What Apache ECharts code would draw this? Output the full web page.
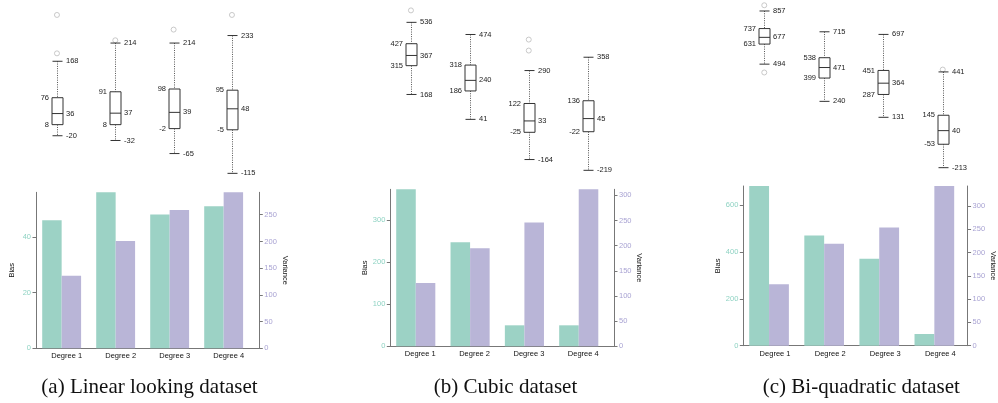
<!DOCTYPE html>
<html><head><meta charset="utf-8">
<script src="https://cdn.jsdelivr.net/npm/echarts@6/dist/echarts.min.js"></script>
<style>html,body{margin:0;padding:0;background:#fff}#c{width:998px;height:403px}</style>
</head><body><div id="c"></div>
<script>
var categories = ['Degree 1', 'Degree 2', 'Degree 3', 'Degree 4'];
var captions = ['(a) Linear looking dataset', '(b) Cubic dataset', '(c) Bi-quadratic dataset'];
// box stats: [lower whisker, Q1, median, Q3, upper whisker]
var boxA = [[-20, 8, 36, 76, 168], [-32, 8, 37, 91, 214], [-65, -2, 39, 98, 214], [-115, -5, 48, 95, 233]];
var boxB = [[168, 315, 367, 427, 536], [41, 186, 240, 318, 474], [-164, -25, 33, 122, 290], [-219, -22, 45, 136, 358]];
var boxC = [[494, 631, 677, 737, 857], [240, 399, 471, 538, 715], [131, 287, 364, 451, 697], [-213, -53, 40, 145, 441]];
// outliers: [category index, value]
var outA = [[0, 285], [0, 188], [1, 221], [2, 248], [3, 285]];
var outB = [[0, 597], [2, 448], [2, 392]];
var outC = [[0, 896], [0, 437], [3, 457]];
// bars
var biasA = [46, 56, 48, 51];
var varA = [136, 201, 259, 292];
var biasB = [374, 248, 50, 50];
var varB = [126, 195, 246, 312];
var biasC = [683, 471, 372, 50];
var varC = [132, 219, 254, 343];
var biasTickStep = [20, 100, 200];
var varTickStep = [50, 50, 50];

var TEAL = '#9cd2c5', LAV = '#b9b5d7', TEAL_T = '#8fd3c3', LAV_T = '#a9a3d3';
var FONT = 'Liberation Sans';

// layout
var boxLayout = [
  {left: 27.8, width: 233.3, top: 9.0, bottom: 179.3, min: -130, max: 300},
  {left: 381.5, width: 235.6, top: 0.0, bottom: 176.4, min: -250, max: 650},
  {left: 734.5, width: 238.0, top: 0.3, bottom: 173.1, min: -250, max: 930}
];
var barAxes = [
  {left: 36, right: 259.3, top: 192.3, bottom: 348.3},
  {left: 390.3, right: 614, top: 189.3, bottom: 346.3},
  {left: 743.3, right: 970, top: 186, bottom: 345.7}
];
var barBands = [
  {left: 34.65, width: 216, shift: 10},
  {left: 388.6, width: 217.3, shift: 9},
  {left: 741.5, width: 220.4, shift: 12}
];
var captionPos = [[149.5, 387], [505.5, 387], [861.3, 387]];

var boxes = [boxA, boxB, boxC], outs = [outA, outB, outC];
var biases = [biasA, biasB, biasC], vars = [varA, varB, varC];

function renderBox(params, api) {
  var i = api.value(0);
  var lo = api.coord([i, api.value(1)]);
  var q1 = api.coord([i, api.value(2)]);
  var md = api.coord([i, api.value(3)]);
  var q3 = api.coord([i, api.value(4)]);
  var hi = api.coord([i, api.value(5)]);
  var cx = Math.round(md[0]) + 0.5;
  var hw = 5.5, cw = 5;
  var stroke = '#333';
  var ts = function (t, x, y, al) {
    return {type: 'text', style: {text: String(t), x: x, y: y, align: al, verticalAlign: 'middle',
      fontSize: 7.5, fontFamily: FONT, fill: '#222'}};
  };
  return {type: 'group', children: [
    {type: 'line', shape: {x1: cx, y1: hi[1], x2: cx, y2: q3[1]}, style: {stroke: '#555', lineWidth: 1, lineDash: [1, 1.3]}},
    {type: 'line', shape: {x1: cx, y1: q1[1], x2: cx, y2: lo[1]}, style: {stroke: '#555', lineWidth: 1, lineDash: [1, 1.3]}},
    {type: 'line', shape: {x1: cx - cw, y1: hi[1], x2: cx + cw, y2: hi[1]}, style: {stroke: stroke, lineWidth: 1}},
    {type: 'line', shape: {x1: cx - cw, y1: lo[1], x2: cx + cw, y2: lo[1]}, style: {stroke: stroke, lineWidth: 1}},
    {type: 'rect', shape: {x: cx - hw, y: q3[1], width: hw * 2, height: q1[1] - q3[1]}, style: {fill: '#fff', stroke: stroke, lineWidth: 1}},
    {type: 'line', shape: {x1: cx - hw, y1: md[1], x2: cx + hw, y2: md[1]}, style: {stroke: stroke, lineWidth: 1}},
    ts(api.value(4), cx - hw - 3, q3[1], 'right'),
    ts(api.value(2), cx - hw - 3, q1[1], 'right'),
    ts(api.value(3), cx + hw + 3, md[1], 'left'),
    ts(api.value(5), cx + cw + 3.5, hi[1], 'left'),
    ts(api.value(1), cx + cw + 3.5, lo[1], 'left')
  ]};
}

var grid = [], xAxis = [], yAxis = [], series = [], graphic = [];
for (var p = 0; p < 3; p++) {
  // boxplot grid
  var bl = boxLayout[p];
  var gi = grid.length;
  grid.push({left: bl.left, width: bl.width, top: bl.top, height: bl.bottom - bl.top});
  var xi = xAxis.length;
  xAxis.push({type: 'category', gridIndex: gi, data: categories, show: false, boundaryGap: true});
  var yi = yAxis.length;
  yAxis.push({type: 'value', gridIndex: gi, min: bl.min, max: bl.max, show: false, splitLine: {show: false}});
  series.push({type: 'custom', xAxisIndex: xi, yAxisIndex: yi, renderItem: renderBox,
    encode: {x: 0, y: [1, 2, 3, 4, 5]},
    data: boxes[p].map(function (b, i) { return [i].concat(b); }), z: 3});
  series.push({type: 'scatter', xAxisIndex: xi, yAxisIndex: yi, data: outs[p], symbol: 'circle', symbolSize: 5,
    itemStyle: {color: '#fff', borderColor: '#bbb', borderWidth: 1}, z: 2});

  // bar axes grid (visible axes)
  var ba = barAxes[p];
  var gv = grid.length;
  grid.push({left: ba.left, width: ba.right - ba.left, top: ba.top, height: ba.bottom - ba.top});
  xAxis.push({type: 'category', gridIndex: gv, data: categories,
    axisLine: {lineStyle: {color: '#777', width: 1}}, axisTick: {show: false}, axisLabel: {show: false}});
  var bMax = Math.max.apply(null, biases[p]), vMax = Math.max.apply(null, vars[p]);
  var axisCommon = function (color, step, max, pos) {
    return {type: 'value', gridIndex: gv, position: pos, min: 0, max: max, interval: step,
      name: pos === 'left' ? 'Bias' : 'Variance', nameLocation: 'middle', nameGap: pos === 'left' ? 20 : 19,
      nameRotate: pos === 'left' ? 90 : -90,
      nameTextStyle: {color: '#111', fontSize: 7.5, fontFamily: FONT},
      axisLine: {show: true, lineStyle: {color: '#777', width: 1}},
      axisTick: {show: true, length: 3.5, lineStyle: {color: '#777'}},
      axisLabel: {color: color, fontSize: 7.5, fontFamily: FONT, margin: 5, showMaxLabel: false},
      splitLine: {show: false}};
  };
  yAxis.push(axisCommon(TEAL_T, biasTickStep[p], bMax, 'left'));
  yAxis.push(axisCommon(LAV_T, varTickStep[p], vMax, 'right'));

  // bar grid (bars)
  var bb = barBands[p];
  var gb = grid.length;
  grid.push({left: bb.left, width: bb.width, top: ba.top, height: ba.bottom - ba.top});
  var xb = xAxis.length;
  xAxis.push({type: 'category', gridIndex: gb, data: categories,
    axisLine: {show: false}, axisTick: {show: false},
    axisLabel: {color: '#111', fontSize: 7.5, fontFamily: FONT, margin: 4, padding: [0, 0, 0, bb.shift]}});
  var yb1 = yAxis.length;
  yAxis.push({type: 'value', gridIndex: gb, min: 0, max: bMax, show: false, splitLine: {show: false}});
  var yb2 = yAxis.length;
  yAxis.push({type: 'value', gridIndex: gb, min: 0, max: vMax, show: false, splitLine: {show: false}});
  series.push({type: 'bar', xAxisIndex: xb, yAxisIndex: yb1, data: biases[p], barGap: '0%', barCategoryGap: '28%',
    itemStyle: {color: TEAL}, silent: true});
  series.push({type: 'bar', xAxisIndex: xb, yAxisIndex: yb2, data: vars[p], barGap: '0%', barCategoryGap: '28%',
    itemStyle: {color: LAV}, silent: true});

  graphic.push({type: 'text', x: captionPos[p][0], y: captionPos[p][1],
    style: {text: captions[p], align: 'center', verticalAlign: 'middle', fontSize: 21,
      fontFamily: 'Liberation Serif', fill: '#111'}});
}

var chart = echarts.init(document.getElementById('c'), null, {renderer: 'canvas'});
chart.setOption({animation: false, grid: grid, xAxis: xAxis, yAxis: yAxis, series: series, graphic: graphic});
</script></body></html>
